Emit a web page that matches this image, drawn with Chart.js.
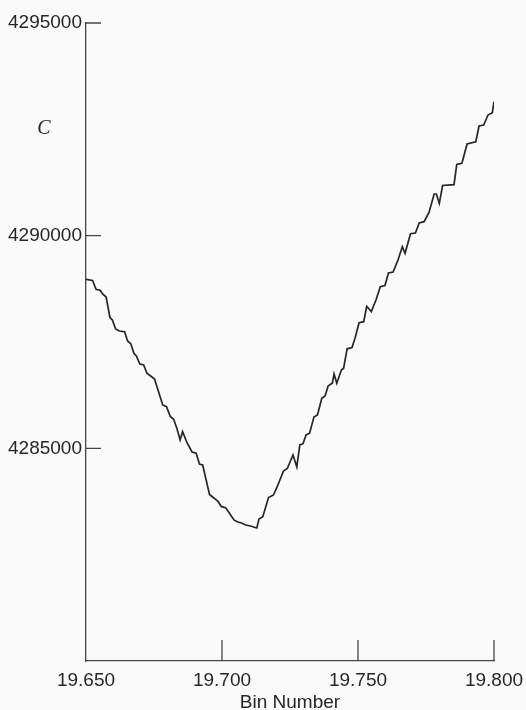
<!DOCTYPE html>
<html>
<head>
<meta charset="utf-8">
<script src="https://cdn.jsdelivr.net/npm/chart.js@4.4.0/dist/chart.umd.min.js"></script>
<style>
  html, body { margin: 0; padding: 0; background: #f9faf9; }
  #wrap { width: 526px; height: 710px; }
</style>
</head>
<body>
<div id="wrap"><canvas id="c" width="526" height="710"></canvas></div>
<script>
// Bin positions of the count curve vertices
const bins = [
  19.6500, 19.6524, 19.6537, 19.6553, 19.6561, 19.6574, 19.6588, 19.6597, 19.6609, 19.6622,
  19.6642, 19.6653, 19.6665, 19.6676, 19.6685, 19.6698, 19.6712, 19.6724, 19.6740, 19.6752,
  19.6782, 19.6796, 19.6810, 19.6822, 19.6834, 19.6846, 19.6855, 19.6871, 19.6890, 19.6905,
  19.6917, 19.6929, 19.6954, 19.6970, 19.6986, 19.6998, 19.7013, 19.7025, 19.7044, 19.7058,
  19.7072, 19.7087, 19.7105, 19.7128, 19.7136, 19.7150, 19.7171, 19.7189, 19.7203, 19.7226,
  19.7240, 19.7261, 19.7275, 19.7286, 19.7298, 19.7309, 19.7322, 19.7338, 19.7351, 19.7367,
  19.7379, 19.7390, 19.7406, 19.7412, 19.7422, 19.7439, 19.7447, 19.7460, 19.7478, 19.7489,
  19.7504, 19.7521, 19.7532, 19.7549, 19.7566, 19.7582, 19.7599, 19.7612, 19.7629, 19.7647,
  19.7663, 19.7673, 19.7693, 19.7711, 19.7725, 19.7743, 19.7761, 19.7780, 19.7788, 19.7799,
  19.7811, 19.7853, 19.7863, 19.7882, 19.7901, 19.7933, 19.7945, 19.7962, 19.7978, 19.7994,
  19.8000
];

// Count C at each bin
const counts = [
  4288974, 4288946, 4288739, 4288711, 4288629, 4288558, 4288076, 4288017, 4287806, 4287759,
  4287743, 4287524, 4287453, 4287235, 4287171, 4286983, 4286960, 4286764, 4286689, 4286630,
  4286019, 4285979, 4285749, 4285683, 4285471, 4285196, 4285392, 4285138, 4284914, 4284884,
  4284632, 4284609, 4283915, 4283833, 4283746, 4283628, 4283605, 4283497, 4283316, 4283269,
  4283245, 4283198, 4283174, 4283127, 4283339, 4283393, 4283844, 4283903, 4284098, 4284468,
  4284526, 4284844, 4284562, 4285079, 4285109, 4285314, 4285354, 4285737, 4285784, 4286177,
  4286231, 4286466, 4286536, 4286748, 4286529, 4286842, 4286882, 4287340, 4287371, 4287587,
  4287954, 4287978, 4288340, 4288213, 4288488, 4288800, 4288829, 4289122, 4289146, 4289428,
  4289741, 4289586, 4290046, 4290063, 4290298, 4290329, 4290545, 4290980, 4290980, 4290761,
  4291180, 4291198, 4291673, 4291702, 4292155, 4292209, 4292578, 4292602, 4292837, 4292891,
  4293150
];

// Axis ticks and labels
const xTicks = [19.65, 19.70, 19.75, 19.80];
const yTicks = [4285000, 4290000, 4295000];
const xRange = [19.65, 19.80];
const yRange = [4280000, 4295000];
const xTitle = 'Bin Number';
const yTitle = 'C';

const ink = '#262626';
const axisInk = '#474747';
const sans = '"Liberation Sans", Arial, sans-serif';

// Tick marks point into the plot; the axis symbol sits beside the y axis
const innerTicks = {
  id: 'innerTicks',
  beforeDraw(chart) {
    const ctx = chart.ctx;
    ctx.save();
    ctx.fillStyle = '#f9faf9';
    ctx.fillRect(0, 0, chart.width, chart.height);
    ctx.restore();
  },
  afterDraw(chart) {
    const { ctx, chartArea, scales: { x, y } } = chart;
    ctx.save();
    ctx.strokeStyle = axisInk;
    ctx.lineWidth = 1.3;
    ctx.beginPath();
    yTicks.forEach(v => {
      const py = y.getPixelForValue(v);
      ctx.moveTo(chartArea.left, py);
      ctx.lineTo(chartArea.left + 15, py);
    });
    xTicks.forEach(v => {
      if (v === xRange[0]) return;
      const px = x.getPixelForValue(v);
      ctx.moveTo(px, chartArea.bottom);
      ctx.lineTo(px, chartArea.bottom - 21);
    });
    ctx.stroke();

    ctx.font = 'italic 20px "Liberation Serif", "DejaVu Serif", serif';
    ctx.fillStyle = ink;
    ctx.textAlign = 'center';
    ctx.textBaseline = 'middle';
    ctx.fillText(yTitle, chartArea.left - 42, chartArea.top + 106);
    ctx.restore();
  }
};

new Chart(document.getElementById('c'), {
  type: 'line',
  data: {
    datasets: [{
      data: bins.map((b, i) => ({ x: b, y: counts[i] })),
      borderColor: ink,
      borderWidth: 1.7,
      pointRadius: 0,
      tension: 0,
      fill: false
    }]
  },
  options: {
    responsive: false,
    animation: false,
    devicePixelRatio: 1,
    layout: { padding: { top: 23, right: 32, bottom: 0, left: 0 } },
    plugins: { legend: { display: false }, tooltip: { enabled: false } },
    scales: {
      x: {
        type: 'linear',
        min: xRange[0],
        max: xRange[1],
        afterBuildTicks: s => { s.ticks = xTicks.map(v => ({ value: v })); },
        afterFit: s => { s.height = 49; s.paddingLeft = 0; s.paddingRight = 0; },
        grid: { display: false, drawTicks: false },
        border: { display: true, color: axisInk, width: 1.3 },
        ticks: {
          padding: 8,
          maxRotation: 0,
          autoSkip: false,
          color: ink,
          font: { family: sans, size: 19 },
          callback: v => Number(v).toFixed(3)
        },
        title: {
          display: true,
          text: xTitle,
          color: ink,
          font: { family: sans, size: 19, lineHeight: 1 },
          padding: { top: 0, bottom: -2 }
        }
      },
      y: {
        type: 'linear',
        min: yRange[0],
        max: yRange[1],
        afterBuildTicks: s => { s.ticks = yTicks.map(v => ({ value: v })); },
        afterFit: s => { s.width = 86; s.paddingTop = 0; s.paddingBottom = 0; },
        grid: { display: false, drawTicks: false },
        border: { display: true, color: axisInk, width: 1.3 },
        ticks: {
          padding: 4,
          color: ink,
          font: { family: sans, size: 19 },
          callback: v => String(v)
        }
      }
    }
  },
  plugins: [innerTicks]
});
</script>
</body>
</html>
